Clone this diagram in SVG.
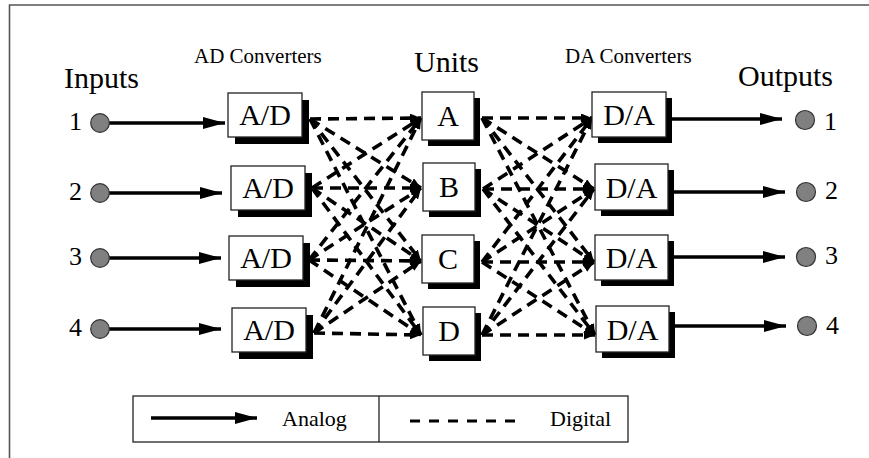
<svg xmlns="http://www.w3.org/2000/svg" width="869" height="458" viewBox="0 0 869 458">
<defs>
<style>
text{font-family:"Liberation Serif","Times New Roman",serif;fill:#000}
.big{font-size:30px}
.conv{font-size:21px}
.num{font-size:26px}
.box{fill:#fff;stroke:#222;stroke-width:1.3}
.sh{fill:#000}
.bt{font-size:30px;text-anchor:middle}
.an{stroke:#000;stroke-width:3.5;fill:none}
.dg{stroke:#000;stroke-width:3.6;fill:none;stroke-dasharray:11 7}
.dot{fill:#808080;stroke:#333;stroke-width:1.2}
.leg{font-size:22px}
</style>
<marker id="ah" viewBox="0 0 10 10" refX="10" refY="5" markerUnits="userSpaceOnUse" markerWidth="22" markerHeight="12" orient="auto" preserveAspectRatio="none">
<path d="M0,0 L10,5 L0,10 z" fill="#000"/>
</marker>
<marker id="dh" viewBox="0 0 10 10" refX="10" refY="5" markerUnits="userSpaceOnUse" markerWidth="11" markerHeight="9" orient="auto" preserveAspectRatio="none">
<path d="M0,0 L10,5 L0,10 z" fill="#000"/>
</marker>
</defs>
<rect width="869" height="458" fill="#fff"/>
<path d="M9.5,458 V5 H869" fill="none" stroke="#555" stroke-width="1.6"/>

<g id="titles">
<text class="big" x="64" y="88">Inputs</text>
<text class="conv" x="194" y="63">AD Converters</text>
<text class="big" x="414" y="72">Units</text>
<text class="conv" x="565" y="63">DA Converters</text>
<text class="big" x="738" y="86">Outputs</text>
</g>

<g id="connectors">
<g id="analog">
<path class="an" d="M109,123 H225" marker-end="url(#ah)"/>
<path class="an" d="M109,193 H222" marker-end="url(#ah)"/>
<path class="an" d="M109,258 H221" marker-end="url(#ah)"/>
<path class="an" d="M109,329 H221" marker-end="url(#ah)"/>
<path class="an" d="M670,119 H782" marker-end="url(#ah)"/>
<path class="an" d="M672,192 H785" marker-end="url(#ah)"/>
<path class="an" d="M672,257 H785" marker-end="url(#ah)"/>
<path class="an" d="M673,326 H786" marker-end="url(#ah)"/>
</g>
<g id="digital-left">
<path class="dg" d="M310,119 L421,118" marker-end="url(#dh)"/>
<path class="dg" d="M310,119 L421,188" marker-end="url(#dh)"/>
<path class="dg" d="M310,119 L421,261" marker-end="url(#dh)"/>
<path class="dg" d="M310,119 L421,335" marker-end="url(#dh)"/>
<path class="dg" d="M312,188 L421,118" marker-end="url(#dh)"/>
<path class="dg" d="M312,188 L421,188" marker-end="url(#dh)"/>
<path class="dg" d="M312,188 L421,261" marker-end="url(#dh)"/>
<path class="dg" d="M312,188 L421,335" marker-end="url(#dh)"/>
<path class="dg" d="M309,260 L421,118" marker-end="url(#dh)"/>
<path class="dg" d="M309,260 L421,188" marker-end="url(#dh)"/>
<path class="dg" d="M309,260 L421,261" marker-end="url(#dh)"/>
<path class="dg" d="M309,260 L421,335" marker-end="url(#dh)"/>
<path class="dg" d="M314,333 L421,118" marker-end="url(#dh)"/>
<path class="dg" d="M314,333 L421,188" marker-end="url(#dh)"/>
<path class="dg" d="M314,333 L421,261" marker-end="url(#dh)"/>
<path class="dg" d="M314,333 L421,335" marker-end="url(#dh)"/>
</g>
<g id="digital-right">
<path class="dg" d="M482,118 L592,118" marker-end="url(#dh)"/>
<path class="dg" d="M482,118 L594,189" marker-end="url(#dh)"/>
<path class="dg" d="M482,118 L594,262" marker-end="url(#dh)"/>
<path class="dg" d="M482,118 L595,335" marker-end="url(#dh)"/>
<path class="dg" d="M483,189 L592,118" marker-end="url(#dh)"/>
<path class="dg" d="M483,189 L594,189" marker-end="url(#dh)"/>
<path class="dg" d="M483,189 L594,262" marker-end="url(#dh)"/>
<path class="dg" d="M483,189 L595,335" marker-end="url(#dh)"/>
<path class="dg" d="M482,262 L592,118" marker-end="url(#dh)"/>
<path class="dg" d="M482,262 L594,189" marker-end="url(#dh)"/>
<path class="dg" d="M482,262 L594,262" marker-end="url(#dh)"/>
<path class="dg" d="M482,262 L595,335" marker-end="url(#dh)"/>
<path class="dg" d="M482,335 L592,118" marker-end="url(#dh)"/>
<path class="dg" d="M482,335 L594,189" marker-end="url(#dh)"/>
<path class="dg" d="M482,335 L594,262" marker-end="url(#dh)"/>
<path class="dg" d="M482,335 L595,335" marker-end="url(#dh)"/>
</g>
</g>

<g id="in1"><text class="num" x="69" y="130">1</text><circle class="dot" cx="100" cy="123" r="9.3"/></g>
<g id="in2"><text class="num" x="69" y="200">2</text><circle class="dot" cx="100" cy="193" r="9.3"/></g>
<g id="in3"><text class="num" x="69" y="265">3</text><circle class="dot" cx="100" cy="258" r="9.3"/></g>
<g id="in4"><text class="num" x="69" y="336">4</text><circle class="dot" cx="100" cy="329" r="9.3"/></g>

<g id="ad1"><rect class="sh" x="235" y="100" width="74" height="44"/><rect class="box" x="228" y="93" width="74" height="44"/><text class="bt" x="265" y="125">A/D</text></g>
<g id="ad2"><rect class="sh" x="238" y="173" width="74" height="44"/><rect class="box" x="231" y="166" width="74" height="44"/><text class="bt" x="268" y="198">A/D</text></g>
<g id="ad3"><rect class="sh" x="236" y="243" width="74" height="44"/><rect class="box" x="229" y="236" width="74" height="44"/><text class="bt" x="266" y="268">A/D</text></g>
<g id="ad4"><rect class="sh" x="239" y="315" width="74" height="44"/><rect class="box" x="232" y="308" width="74" height="44"/><text class="bt" x="269" y="340">A/D</text></g>

<g id="unitA"><rect class="sh" x="428" y="98" width="52" height="48"/><rect class="box" x="422" y="92" width="52" height="48"/><text class="bt" x="448" y="126">A</text></g>
<g id="unitB"><rect class="sh" x="429" y="169" width="52" height="48"/><rect class="box" x="423" y="163" width="52" height="48"/><text class="bt" x="449" y="197">B</text></g>
<g id="unitC"><rect class="sh" x="428" y="241" width="52" height="48"/><rect class="box" x="422" y="235" width="52" height="48"/><text class="bt" x="448" y="269">C</text></g>
<g id="unitD"><rect class="sh" x="429" y="313" width="52" height="48"/><rect class="box" x="423" y="307" width="52" height="48"/><text class="bt" x="449" y="341">D</text></g>

<g id="da1"><rect class="sh" x="598" y="98" width="74" height="45"/><rect class="box" x="592" y="92" width="74" height="45"/><text class="bt" x="629" y="125">D/A</text></g>
<g id="da2"><rect class="sh" x="601" y="170" width="73" height="46"/><rect class="box" x="595" y="164" width="73" height="46"/><text class="bt" x="631.5" y="198">D/A</text></g>
<g id="da3"><rect class="sh" x="601" y="241" width="73" height="45"/><rect class="box" x="595" y="235" width="73" height="45"/><text class="bt" x="631.5" y="268">D/A</text></g>
<g id="da4"><rect class="sh" x="602" y="312" width="73" height="46"/><rect class="box" x="596" y="306" width="73" height="46"/><text class="bt" x="632.5" y="340">D/A</text></g>

<g id="out1"><circle class="dot" cx="805" cy="120" r="9.5"/><text class="num" x="824" y="130">1</text></g>
<g id="out2"><circle class="dot" cx="806" cy="192" r="9.5"/><text class="num" x="825" y="199">2</text></g>
<g id="out3"><circle class="dot" cx="806" cy="257" r="9.5"/><text class="num" x="825" y="264">3</text></g>
<g id="out4"><circle class="dot" cx="807" cy="326" r="9.5"/><text class="num" x="826" y="334">4</text></g>

<g id="legend">
<rect x="133" y="396" width="495" height="46" fill="#fff" stroke="#222" stroke-width="1.3"/>
<line x1="379" y1="396" x2="379" y2="442" stroke="#222" stroke-width="1.3"/>
<path class="an" d="M151,418 H257" marker-end="url(#ah)"/>
<text class="leg" x="282" y="426">Analog</text>
<path d="M410,421 H519" stroke="#000" stroke-width="3.2" stroke-dasharray="10 9"/>
<text class="leg" x="550" y="426">Digital</text>
</g>
</svg>
